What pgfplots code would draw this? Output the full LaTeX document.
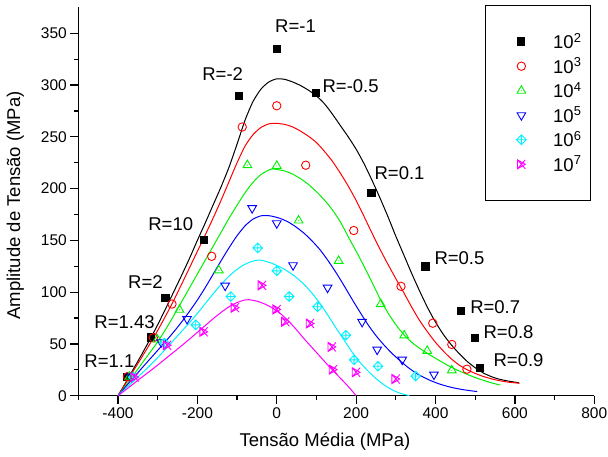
\documentclass[border=0pt]{standalone}
\usepackage{fontspec}
\setmainfont{Liberation Sans}
\usepackage{pgfplots}
\pgfplotsset{compat=1.18}
\usepackage{pgfplotstable}

\definecolor{cR}{RGB}{255,0,0}
\definecolor{cG}{RGB}{0,240,0}
\definecolor{cB}{RGB}{0,0,255}
\definecolor{cC}{RGB}{0,240,255}
\definecolor{cM}{RGB}{255,0,255}

\pgfdeclareplotmark{dplus}{%
  \pgfpathmoveto{\pgfqpoint{0pt}{\pgfplotmarksize}}%
  \pgfpathlineto{\pgfqpoint{\pgfplotmarksize}{0pt}}%
  \pgfpathlineto{\pgfqpoint{0pt}{-\pgfplotmarksize}}%
  \pgfpathlineto{\pgfqpoint{-\pgfplotmarksize}{0pt}}%
  \pgfpathclose
  \pgfpathmoveto{\pgfqpoint{0pt}{\pgfplotmarksize}}%
  \pgfpathlineto{\pgfqpoint{0pt}{-\pgfplotmarksize}}%
  \pgfpathmoveto{\pgfqpoint{-\pgfplotmarksize}{0pt}}%
  \pgfpathlineto{\pgfqpoint{\pgfplotmarksize}{0pt}}%
  \pgfusepathqstroke}
\pgfdeclareplotmark{tridot}{%
  \pgfpathmoveto{\pgfqpoint{0pt}{\pgfplotmarksize}}%
  \pgfpathlineto{\pgfqpoint{0.866\pgfplotmarksize}{-0.5\pgfplotmarksize}}%
  \pgfpathlineto{\pgfqpoint{-0.866\pgfplotmarksize}{-0.5\pgfplotmarksize}}%
  \pgfpathclose
  \pgfusepathqstroke
  \pgfpathcircle{\pgfpointorigin}{0.55pt}%
  \pgfusepathqfill}
\pgfdeclareplotmark{rtrix}{%
  \pgfpathmoveto{\pgfqpoint{0.75\pgfplotmarksize}{0pt}}%
  \pgfpathlineto{\pgfqpoint{-0.75\pgfplotmarksize}{0.866\pgfplotmarksize}}%
  \pgfpathlineto{\pgfqpoint{-0.75\pgfplotmarksize}{-0.866\pgfplotmarksize}}%
  \pgfpathclose
  \pgfpathmoveto{\pgfqpoint{-0.75\pgfplotmarksize}{0.866\pgfplotmarksize}}%
  \pgfpathlineto{\pgfqpoint{0.75\pgfplotmarksize}{-0.866\pgfplotmarksize}}%
  \pgfpathmoveto{\pgfqpoint{-0.75\pgfplotmarksize}{-0.866\pgfplotmarksize}}%
  \pgfpathlineto{\pgfqpoint{0.75\pgfplotmarksize}{0.866\pgfplotmarksize}}%
  \pgfusepathqstroke}

% ---------- fitted curves ----------
\pgfplotstableread{
x y
-400 0
-380 13
-360 26.5
-340 40
-320 54
-300 68.5
-280 84
-260 100
-240 116
-220 132.5
-200 150
-180 167
-160 184.5
-140 202
-120 221
-100 243
-80 266
-60 284
-40 296
-20 303
0 306
20 305.5
40 303
60 299.5
80 295
100 289.5
120 282
140 272
160 261
180 250
200 238
220 224
240 208
260 191
280 173
300 154
320 136
340 118
360 101
380 85
400 71
420 59
440 49
460 40.5
480 33
500 27
520 22
540 18.5
560 16
585 14
610 12.5
}\cA
\pgfplotstableread{
x y
-400 0
-380 12.4
-360 24.8
-340 37.2
-320 49.8
-300 63
-280 77
-260 91.8
-240 107.4
-220 123.4
-200 139.4
-180 155.4
-160 171.8
-140 189
-120 207
-100 225
-80 241
-60 252
-40 259
-20 262.5
0 263
20 262
40 259.5
60 255.5
80 250.5
100 244.5
120 236
140 226.5
160 215
180 202.5
200 188.5
220 173
240 157
260 141.5
280 127
300 113
320 99.5
340 85.5
360 72.5
380 61.5
400 51.5
420 43
440 35.5
460 29.5
480 25
500 21.5
520 18.6
540 16.4
560 14.6
585 13
612 12
}\cB
\pgfplotstableread{
x y
-400 0
-380 10
-360 20.5
-340 31
-320 41.5
-300 52
-280 64
-260 77
-240 90.5
-220 104
-200 117.5
-180 131
-160 144.5
-140 158
-120 171.5
-100 184
-80 196
-60 206
-40 213.5
-20 218
-10 219
0 218.5
20 217
40 214
60 209.5
80 204
100 197
120 189
140 179.5
160 168
185 150
205 136
225 121
245 105.5
265 90
285 77
305 66
325 57
345 50
365 44.5
385 39.5
405 35
425 30.5
445 26.5
465 23
485 19.8
505 16.8
525 14.3
545 12
563 10.3
}\cC
\pgfplotstableread{
x y
-400 0
-380 9
-360 17.8
-340 26.6
-320 35.2
-300 43.8
-280 52.4
-260 61.4
-240 71
-220 81.4
-200 92.4
-180 104.5
-160 117.5
-140 130.5
-120 143
-100 154.5
-80 164
-60 170.5
-40 173.7
-25 174
-10 173.2
10 171
30 167.5
50 162.5
70 156.5
90 149
110 140.5
130 130
150 118.5
170 106
190 93
210 80.5
230 68.5
250 58
270 49
290 41
310 34
330 27.5
350 22
370 17.8
390 14.2
410 11.3
430 9
450 7.2
470 5.8
490 4.7
505 4
}\cD
\pgfplotstableread{
x y
-400 0
-380 7.2
-360 14.4
-340 21.6
-320 29
-300 36.8
-280 45
-260 53.5
-240 62
-220 70.5
-200 79.5
-180 89
-160 98.5
-140 107.5
-120 115.5
-100 122
-80 127
-60 130
-45 131
-30 130
-10 127.5
10 124
30 119.5
50 114
70 107
90 98.5
110 88.5
130 77
150 65
170 53.5
190 42
210 32
230 23.8
250 16.5
270 10.5
290 5.8
310 2.5
334 0
}\cE
\pgfplotstableread{
x y
-400 0
-380 5.8
-360 11.8
-340 17.8
-320 23.6
-300 29.6
-280 35.8
-260 42
-240 48.2
-220 54.6
-200 61.2
-180 67.8
-160 74.4
-140 80.5
-120 86
-100 90
-80 92.5
-70 92.7
-50 91.3
-30 88.5
-10 84.5
10 79
30 72
50 63.5
70 54.5
90 46
110 37.5
130 29
150 21
170 13
185 6.8
200 0
}\cF

% ---------- experimental points ----------
\pgfplotstableread{
x y
-377 18
-318 56.5
-281 94.3
-184 150.8
-95 290
0 335
98 293
238 196
374 125
464 82.3
499 56
512 27.4
}\dA
\pgfplotstableread{
x y
-376 18.4
-311 56
-264 88.5
-164 134.6
-87 259.5
0 280
73 222.6
194 159.5
313 105.6
393 70
441 49.5
479 25.6
}\dB
\pgfplotstableread{
x y
-371 18.4
-301 54.3
-245 83
-146 121
-74 222.7
0 222
55 169.2
156 130.2
262 88.5
321 58.2
379 43.3
441 24.5
}\dC
\pgfplotstableread{
x y
-366 18.4
-291 51.6
-226 74.1
-130 106.3
-62 181.1
0 166.5
41 126
128 104.3
215 71.3
253 44.5
316 34.8
396 20.4
}\dD
\pgfplotstableread{
x y
-362 17.9
-283 51
-204 68.4
-116 95.8
-48 142.7
0 120.6
31 95.8
103 85.9
174 58.4
195 34.6
255 28.4
350 19
}\dE
\pgfplotstableread{
x y
-358 17.9
-276 48.7
-184 61.7
-105 85
-37 106.6
0 83.3
22 71.4
84 69.7
139 47.1
142 25.2
200 22.6
300 16.1
}\dF

\newcommand{\lf}{\fontsize{18.5}{21}\selectfont}
\newcommand{\tf}{\fontsize{15.5}{18}\selectfont}

\pgfplotsset{
  lm/.style={only marks,
    legend image code/.code={\path (-26.4pt,0pt) (8.5pt,0pt);
      \draw[##1] plot coordinates {(0pt,0pt)};}},
  curve/.style={line width=1pt, no marks, forget plot, smooth, tension=0.4},
}

\begin{document}
\begin{tikzpicture}[x=1pt,y=1pt]
\path[use as bounding box] (0,0) rectangle (608,457);
\begin{axis}[
  at={(78.3pt,61.3pt)}, anchor=south west,
  scale only axis, width=516pt, height=388.3pt,
  xmin=-500, xmax=800, ymin=0, ymax=375,
  axis lines*=left,
  axis line style={line width=1.3pt},
  clip=false,
  xtick={-400,-200,0,200,400,600,800},
  xticklabels={-400,-200,0,200,400,600,800},
  minor xtick={-500,-300,-100,100,300,500,700},
  ytick={0,50,100,150,200,250,300,350},
  yticklabels={0,50,100,150,200,250,300,350},
  minor ytick={25,75,125,175,225,275,325},
  tick align=outside,
  major tick length=8pt, minor tick length=4.5pt,
  tick style={black, line width=1.2pt},
  tick label style={font=\tf},
  xlabel={Tensão Média (MPa)},
  ylabel={Amplitude de Tensão (MPa)},
  label style={font=\lf},
  xlabel style={at={(axis description cs:0.478,-0.117)}, anchor=center},
  ylabel style={at={(axis description cs:-0.122,0.49)}, anchor=center},
  legend style={at={(0.9935,1.0057)}, anchor=north east, draw=black,
    line width=1pt, fill=white, font=\lf,
    inner xsep=9pt, inner ysep=27.5pt, row sep=7.8pt,
    nodes={inner sep=0pt},
    /tikz/every odd column/.append style={column sep=22.8pt}},
  legend cell align=left,
]
\addplot[curve, black] table {\cA};
\addplot[curve, cR] table {\cB};
\addplot[curve, cG] table {\cC};
\addplot[curve, cB] table {\cD};
\addplot[curve, cC] table {\cE};
\addplot[curve, cM] table {\cF};

\addplot[lm, black, mark=square*, mark size=3.6pt] table {\dA};
\addlegendentry{10\textsuperscript{2}}
\addplot[lm, cR, mark=o, mark size=4.2pt, mark options={line width=0.9pt}] table {\dB};
\addlegendentry{10\textsuperscript{3}}
\addplot[lm, cG, mark=tridot, mark size=5pt, mark options={line width=0.9pt}] table {\dC};
\addlegendentry{10\textsuperscript{4}}
\addplot[lm, cB, mark=triangle, mark size=5pt, mark options={rotate=180, line width=0.9pt}] table {\dD};
\addlegendentry{10\textsuperscript{5}}
\addplot[lm, cC, mark=dplus, mark size=4.8pt, mark options={line width=0.9pt}] table {\dE};
\addlegendentry{10\textsuperscript{6}}
\addplot[lm, cM, mark=rtrix, mark size=5.2pt, mark options={line width=0.9pt}] table {\dF};
\addlegendentry{10\textsuperscript{7}}

\begin{scope}[every node/.style={anchor=west, inner sep=0pt, font=\lf}]
\node at (axis cs:-4.4,356.5) {R=-1};
\node at (axis cs:-188,310.3) {R=-2};
\node at (axis cs:115,299) {R=-0.5};
\node at (axis cs:246,215.4) {R=0.1};
\node at (axis cs:-324,166) {R=10};
\node at (axis cs:397,133) {R=0.5};
\node at (axis cs:-374.8,109.8) {R=2};
\node at (axis cs:487,85.2) {R=0.7};
\node at (axis cs:-459.7,71.4) {R=1.43};
\node at (axis cs:520.6,61.3) {R=0.8};
\node at (axis cs:545.8,34.2) {R=0.9};
\node at (axis cs:-485,33.6) {R=1.1};
\end{scope}
\end{axis}
\end{tikzpicture}
\end{document}
